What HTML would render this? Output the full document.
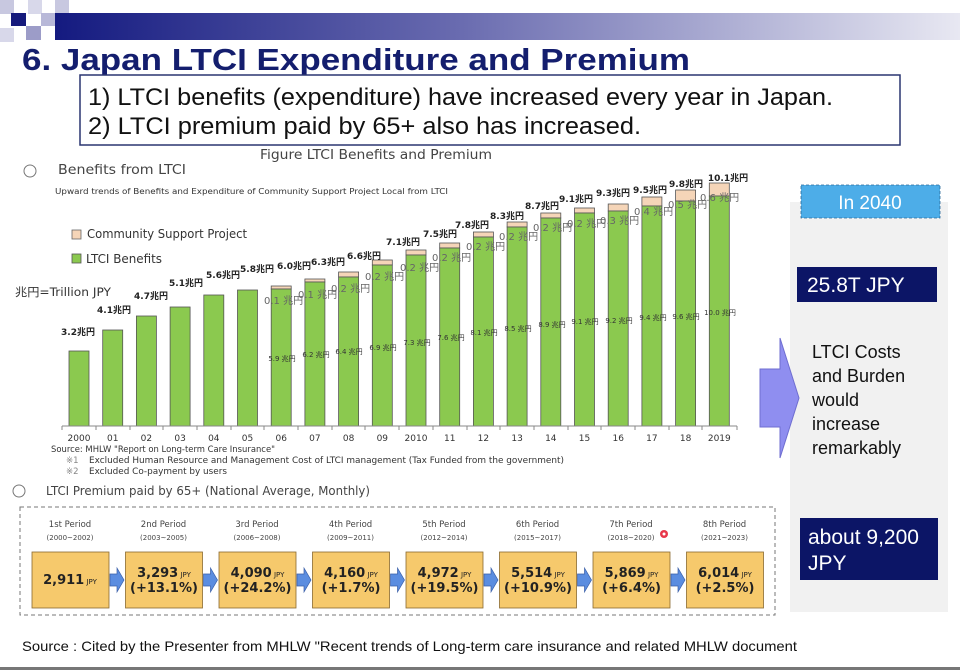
<!DOCTYPE html>
<html><head><meta charset="utf-8"><style>
html,body{margin:0;padding:0;background:#fff;}
svg{display:block;}
.c{font-family:"DejaVu Sans","Noto Sans CJK JP",sans-serif;}
.a{font-family:"Liberation Sans","Noto Sans CJK JP",sans-serif;}
</style></head><body>
<svg width="960" height="670" viewBox="0 0 960 670" xmlns="http://www.w3.org/2000/svg">
<defs>
<linearGradient id="band" x1="0" x2="1" y1="0" y2="0">
<stop offset="0" stop-color="#141a80"/><stop offset="0.45" stop-color="#6a6cb0"/><stop offset="1" stop-color="#e8e8f2"/>
</linearGradient>
</defs>
<!-- header band -->
<rect x="55" y="13" width="905" height="27" fill="url(#band)"/>
<rect x="0" y="0" width="14" height="14" fill="#c8c8e0"/>
<rect x="28" y="0" width="14" height="14" fill="#d8d8ea"/>
<rect x="0" y="28" width="14" height="14" fill="#d8d8ea"/>
<rect x="11" y="13" width="15" height="13" fill="#161a7c"/>
<rect x="41" y="13" width="14" height="13" fill="#b8b8d8"/>
<rect x="26" y="26" width="15" height="14" fill="#9c9cc8"/>
<rect x="55" y="0" width="14" height="13" fill="#c8c8e0"/>
<text x="22" y="70" class="a" font-size="31" font-weight="bold" fill="#141e6e" textLength="668" lengthAdjust="spacingAndGlyphs">6. Japan LTCI Expenditure and Premium</text>
<rect x="80" y="75" width="820" height="70" fill="#fff" stroke="#2a3570" stroke-width="1.5"/>
<text x="88" y="105" class="a" font-size="24" fill="#111" textLength="745" lengthAdjust="spacingAndGlyphs">1)   LTCI benefits (expenditure) have increased every year in Japan.</text>
<text x="88" y="134" class="a" font-size="24" fill="#111" textLength="553" lengthAdjust="spacingAndGlyphs">2)   LTCI premium paid by 65+ also has increased.</text>

<text x="260" y="159" class="c" font-size="13" fill="#444" textLength="232" lengthAdjust="spacingAndGlyphs">Figure LTCI Benefits and Premium</text>
<circle cx="30" cy="171" r="6" fill="none" stroke="#777" stroke-width="1"/>
<text x="58" y="174" class="c" font-size="13.5" fill="#444" textLength="128" lengthAdjust="spacingAndGlyphs">Benefits from LTCI</text>
<text x="55" y="194" class="c" font-size="8" fill="#333" textLength="393" lengthAdjust="spacingAndGlyphs">Upward trends of Benefits and Expenditure of Community Support Project Local from LTCI</text>

<rect x="72" y="230" width="9" height="9" fill="#f5d5b8" stroke="#666" stroke-width="0.8"/>
<text x="87" y="238" class="c" font-size="12" fill="#333" textLength="160" lengthAdjust="spacingAndGlyphs">Community Support Project</text>
<rect x="72" y="254" width="9" height="9" fill="#8bc94f" stroke="#555" stroke-width="0.8"/>
<text x="86" y="263" class="c" font-size="12" fill="#333" textLength="76" lengthAdjust="spacingAndGlyphs">LTCI Benefits</text>
<text x="15" y="296" class="c" font-size="11.5" fill="#333" textLength="96" lengthAdjust="spacingAndGlyphs">兆円=Trillion JPY</text>

<!-- bars -->
<g stroke="#555" stroke-width="0.8">
<rect x="69" y="351" width="20" height="75" fill="#8bc94f"/>
<rect x="102.7" y="330" width="20" height="96" fill="#8bc94f"/>
<rect x="136.4" y="316" width="20" height="110" fill="#8bc94f"/>
<rect x="170.1" y="307" width="20" height="119" fill="#8bc94f"/>
<rect x="203.8" y="295" width="20" height="131" fill="#8bc94f"/>
<rect x="237.5" y="290" width="20" height="136" fill="#8bc94f"/>
<rect x="271.2" y="286" width="20" height="3" fill="#f5d5b8"/><rect x="271.2" y="289" width="20" height="137" fill="#8bc94f"/>
<rect x="304.9" y="279" width="20" height="3" fill="#f5d5b8"/><rect x="304.9" y="282" width="20" height="144" fill="#8bc94f"/>
<rect x="338.6" y="272" width="20" height="5" fill="#f5d5b8"/><rect x="338.6" y="277" width="20" height="149" fill="#8bc94f"/>
<rect x="372.3" y="260" width="20" height="5" fill="#f5d5b8"/><rect x="372.3" y="265" width="20" height="161" fill="#8bc94f"/>
<rect x="406" y="250" width="20" height="5" fill="#f5d5b8"/><rect x="406" y="255" width="20" height="171" fill="#8bc94f"/>
<rect x="439.7" y="243" width="20" height="5" fill="#f5d5b8"/><rect x="439.7" y="248" width="20" height="178" fill="#8bc94f"/>
<rect x="473.4" y="232" width="20" height="5" fill="#f5d5b8"/><rect x="473.4" y="237" width="20" height="189" fill="#8bc94f"/>
<rect x="507.1" y="222" width="20" height="5" fill="#f5d5b8"/><rect x="507.1" y="227" width="20" height="199" fill="#8bc94f"/>
<rect x="540.8" y="213" width="20" height="5" fill="#f5d5b8"/><rect x="540.8" y="218" width="20" height="208" fill="#8bc94f"/>
<rect x="574.5" y="208" width="20" height="5" fill="#f5d5b8"/><rect x="574.5" y="213" width="20" height="213" fill="#8bc94f"/>
<rect x="608.2" y="204" width="20" height="7" fill="#f5d5b8"/><rect x="608.2" y="211" width="20" height="215" fill="#8bc94f"/>
<rect x="641.9" y="197" width="20" height="9" fill="#f5d5b8"/><rect x="641.9" y="206" width="20" height="220" fill="#8bc94f"/>
<rect x="675.6" y="190" width="20" height="11" fill="#f5d5b8"/><rect x="675.6" y="201" width="20" height="225" fill="#8bc94f"/>
<rect x="709.3" y="183" width="20" height="13" fill="#f5d5b8"/><rect x="709.3" y="196" width="20" height="230" fill="#8bc94f"/>
</g>
<line x1="62" y1="426" x2="737" y2="426" stroke="#888" stroke-width="1"/>
<g stroke="#888" stroke-width="1">
<line x1="62" y1="426" x2="62" y2="430"/><line x1="96" y1="426" x2="96" y2="430"/><line x1="130" y1="426" x2="130" y2="430"/><line x1="163" y1="426" x2="163" y2="430"/><line x1="197" y1="426" x2="197" y2="430"/><line x1="231" y1="426" x2="231" y2="430"/><line x1="264" y1="426" x2="264" y2="430"/><line x1="298" y1="426" x2="298" y2="430"/><line x1="332" y1="426" x2="332" y2="430"/><line x1="365" y1="426" x2="365" y2="430"/><line x1="399" y1="426" x2="399" y2="430"/><line x1="433" y1="426" x2="433" y2="430"/><line x1="467" y1="426" x2="467" y2="430"/><line x1="500" y1="426" x2="500" y2="430"/><line x1="534" y1="426" x2="534" y2="430"/><line x1="568" y1="426" x2="568" y2="430"/><line x1="601" y1="426" x2="601" y2="430"/><line x1="635" y1="426" x2="635" y2="430"/><line x1="669" y1="426" x2="669" y2="430"/><line x1="702" y1="426" x2="702" y2="430"/><line x1="737" y1="426" x2="737" y2="430"/>
</g>
<g class="c" font-size="9" fill="#333" text-anchor="middle">
<text x="79" y="441">2000</text><text x="112.7" y="441">01</text><text x="146.4" y="441">02</text><text x="180.1" y="441">03</text><text x="213.8" y="441">04</text><text x="247.5" y="441">05</text><text x="281.2" y="441">06</text><text x="314.9" y="441">07</text><text x="348.6" y="441">08</text><text x="382.3" y="441">09</text><text x="416" y="441">2010</text><text x="449.7" y="441">11</text><text x="483.4" y="441">12</text><text x="517.1" y="441">13</text><text x="550.8" y="441">14</text><text x="584.5" y="441">15</text><text x="618.2" y="441">16</text><text x="651.9" y="441">17</text><text x="685.6" y="441">18</text><text x="719.3" y="441">2019</text>
</g>
<!-- totals -->
<g class="c" font-size="9" font-weight="bold" fill="#222" text-anchor="middle">
<text x="78" y="335">3.2兆円</text><text x="114" y="313">4.1兆円</text><text x="151" y="299">4.7兆円</text><text x="186" y="286">5.1兆円</text><text x="223" y="278">5.6兆円</text><text x="257" y="272">5.8兆円</text><text x="294" y="269">6.0兆円</text><text x="328" y="265">6.3兆円</text><text x="364" y="259">6.6兆円</text><text x="403" y="245">7.1兆円</text><text x="440" y="237">7.5兆円</text><text x="472" y="228">7.8兆円</text><text x="507" y="219">8.3兆円</text><text x="542" y="209">8.7兆円</text><text x="576" y="202">9.1兆円</text><text x="613" y="196">9.3兆円</text><text x="650" y="193">9.5兆円</text><text x="686" y="187">9.8兆円</text><text x="728" y="181">10.1兆円</text>
</g>
<!-- community support labels -->
<g class="c" font-size="10" fill="#666">
<text x="264" y="304">0.1 兆円</text><text x="298" y="298">0.1 兆円</text><text x="331" y="292">0.2 兆円</text><text x="365" y="280">0.2 兆円</text><text x="400" y="271">0.2 兆円</text><text x="432" y="261">0.2 兆円</text><text x="466" y="250">0.2 兆円</text><text x="499" y="240">0.2 兆円</text><text x="533" y="231">0.2 兆円</text><text x="567" y="227">0.2 兆円</text><text x="600" y="224">0.3 兆円</text><text x="634" y="215">0.4 兆円</text><text x="668" y="208">0.5 兆円</text><text x="700" y="201">0.6 兆円</text>
</g>
<!-- benefit labels -->
<g class="c" font-size="7" fill="#333" text-anchor="middle">
<text x="282" y="361">5.9 兆円</text><text x="316" y="357">6.2 兆円</text><text x="349" y="354">6.4 兆円</text><text x="383" y="350">6.9 兆円</text><text x="417" y="345">7.3 兆円</text><text x="451" y="340">7.6 兆円</text><text x="484" y="335">8.1 兆円</text><text x="518" y="331">8.5 兆円</text><text x="552" y="327">8.9 兆円</text><text x="585" y="324">9.1 兆円</text><text x="619" y="323">9.2 兆円</text><text x="653" y="320">9.4 兆円</text><text x="686" y="319">9.6 兆円</text><text x="720" y="315">10.0 兆円</text>
</g>
<text x="51" y="452" class="c" font-size="8.5" fill="#333" textLength="224" lengthAdjust="spacingAndGlyphs">Source: MHLW "Report on Long-term Care Insurance"</text>
<text x="66" y="463" class="c" font-size="8.5" fill="#888">※1</text>
<text x="89" y="463" class="c" font-size="8.5" fill="#333" textLength="475" lengthAdjust="spacingAndGlyphs">Excluded Human Resource and Management Cost of LTCI management (Tax Funded from the government)</text>
<text x="66" y="474" class="c" font-size="8.5" fill="#888">※2</text>
<text x="89" y="474" class="c" font-size="8.5" fill="#333" textLength="138" lengthAdjust="spacingAndGlyphs">Excluded Co-payment by users</text>

<!-- premium section -->
<circle cx="19" cy="491" r="6" fill="none" stroke="#777" stroke-width="1"/>
<text x="46" y="495" class="c" font-size="12" fill="#444" textLength="324" lengthAdjust="spacingAndGlyphs">LTCI Premium paid by 65+ (National Average, Monthly)</text>
<rect x="20" y="507" width="755" height="108" fill="none" stroke="#777" stroke-width="1" stroke-dasharray="4,3"/>
<g class="c" fill="#444" text-anchor="middle">
<text x="70" y="527" font-size="8.5">1st Period</text><text x="70" y="540" font-size="7">(2000~2002)</text>
<text x="163.5" y="527" font-size="8.5">2nd Period</text><text x="163.5" y="540" font-size="7">(2003~2005)</text>
<text x="257" y="527" font-size="8.5">3rd Period</text><text x="257" y="540" font-size="7">(2006~2008)</text>
<text x="350.5" y="527" font-size="8.5">4th Period</text><text x="350.5" y="540" font-size="7">(2009~2011)</text>
<text x="444" y="527" font-size="8.5">5th Period</text><text x="444" y="540" font-size="7">(2012~2014)</text>
<text x="537.5" y="527" font-size="8.5">6th Period</text><text x="537.5" y="540" font-size="7">(2015~2017)</text>
<text x="631" y="527" font-size="8.5">7th Period</text><text x="631" y="540" font-size="7">(2018~2020)</text>
<text x="724.5" y="527" font-size="8.5">8th Period</text><text x="724.5" y="540" font-size="7">(2021~2023)</text>
</g>
<circle cx="664" cy="534" r="4" fill="#e8384a"/><circle cx="664" cy="534" r="1.5" fill="#fff"/>
<g fill="#f6c96c" stroke="#8a6a30" stroke-width="0.8">
<rect x="32" y="552" width="77" height="56"/><rect x="125.5" y="552" width="77" height="56"/><rect x="219" y="552" width="77" height="56"/><rect x="312.5" y="552" width="77" height="56"/><rect x="406" y="552" width="77" height="56"/><rect x="499.5" y="552" width="77" height="56"/><rect x="593" y="552" width="77" height="56"/><rect x="686.5" y="552" width="77" height="56"/>
</g>
<g fill="#5b8de0" stroke="#3a5fa8" stroke-width="0.7">
<path d="M110 574 h7 v-6 l7 12 l-7 12 v-6 h-7z"/>
<path d="M203.5 574 h7 v-6 l7 12 l-7 12 v-6 h-7z"/>
<path d="M297 574 h7 v-6 l7 12 l-7 12 v-6 h-7z"/>
<path d="M390.5 574 h7 v-6 l7 12 l-7 12 v-6 h-7z"/>
<path d="M484 574 h7 v-6 l7 12 l-7 12 v-6 h-7z"/>
<path d="M577.5 574 h7 v-6 l7 12 l-7 12 v-6 h-7z"/>
<path d="M671 574 h7 v-6 l7 12 l-7 12 v-6 h-7z"/>
</g>
<g class="c" fill="#222" font-weight="bold" text-anchor="middle">
<text x="70" y="584" font-size="13">2,911<tspan font-size="7" font-weight="normal"> JPY</tspan></text>
<text x="164" y="577" font-size="13">3,293<tspan font-size="7" font-weight="normal"> JPY</tspan></text><text x="164" y="592" font-size="13">(+13.1%)</text>
<text x="257.5" y="577" font-size="13">4,090<tspan font-size="7" font-weight="normal"> JPY</tspan></text><text x="257.5" y="592" font-size="13">(+24.2%)</text>
<text x="351" y="577" font-size="13">4,160<tspan font-size="7" font-weight="normal"> JPY</tspan></text><text x="351" y="592" font-size="13">(+1.7%)</text>
<text x="444.5" y="577" font-size="13">4,972<tspan font-size="7" font-weight="normal"> JPY</tspan></text><text x="444.5" y="592" font-size="13">(+19.5%)</text>
<text x="538" y="577" font-size="13">5,514<tspan font-size="7" font-weight="normal"> JPY</tspan></text><text x="538" y="592" font-size="13">(+10.9%)</text>
<text x="631.5" y="577" font-size="13">5,869<tspan font-size="7" font-weight="normal"> JPY</tspan></text><text x="631.5" y="592" font-size="13">(+6.4%)</text>
<text x="725" y="577" font-size="13">6,014<tspan font-size="7" font-weight="normal"> JPY</tspan></text><text x="725" y="592" font-size="13">(+2.5%)</text>
</g>

<!-- right panel -->
<rect x="790" y="202" width="158" height="410" fill="#f1f1f1"/>
<rect x="801" y="185" width="139" height="33" fill="#4dade8" stroke="#2a6a9a" stroke-width="0.8" stroke-dasharray="3,2"/>
<text x="870" y="209" class="a" font-size="19" fill="#fff" text-anchor="middle">In 2040</text>
<rect x="797" y="267" width="140" height="35" fill="#0c1566"/>
<text x="807" y="292" class="a" font-size="21" fill="#fff">25.8T JPY</text>
<path d="M760 369 h20 v-31 l19 60 l-19 60 v-31 h-20z" fill="#8f8ef0" stroke="#6f6ed0" stroke-width="1"/>
<g class="a" font-size="18" fill="#111">
<text x="812" y="358">LTCI Costs</text><text x="812" y="382">and Burden</text><text x="812" y="406">would</text><text x="812" y="430">increase</text><text x="812" y="454">remarkably</text>
</g>
<rect x="800" y="518" width="138" height="62" fill="#0c1566"/>
<text x="808" y="544" class="a" font-size="21" fill="#fff">about 9,200</text>
<text x="808" y="570" class="a" font-size="21" fill="#fff">JPY</text>

<text x="22" y="651" class="a" font-size="14" fill="#111" textLength="775" lengthAdjust="spacingAndGlyphs">Source : Cited by the Presenter from MHLW "Recent trends of Long-term care insurance and related MHLW document</text>
<rect x="0" y="667" width="960" height="3" fill="#777"/>
</svg>
</body></html>
